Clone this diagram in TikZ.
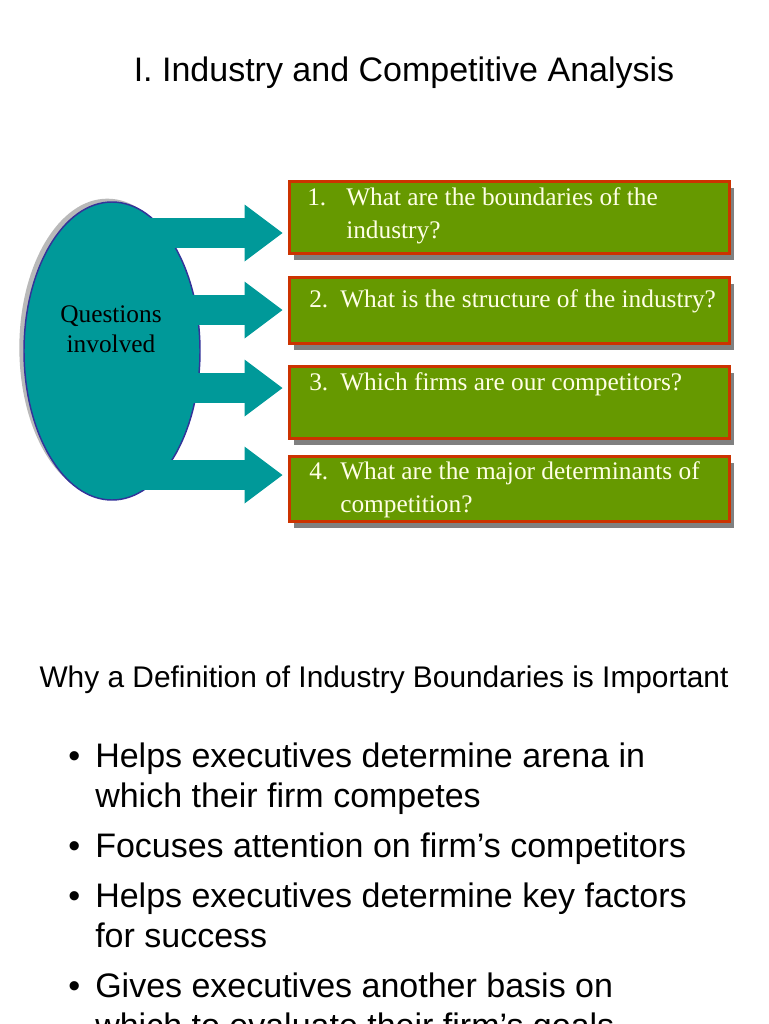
\documentclass[tikz,border=0pt]{standalone}
\usepackage{fontspec}
\setmainfont{Liberation Serif}
\newfontfamily\slidesans{Liberation Sans}
\usetikzlibrary{arrows.meta,shapes.geometric,shadows}
\definecolor{qteal}{HTML}{009999}
\definecolor{qblue}{HTML}{333399}
\definecolor{boxgreen}{HTML}{669900}
\definecolor{boxred}{HTML}{CC3300}
\definecolor{boxshade}{HTML}{808080}
\definecolor{boxtext}{HTML}{FFFFE6}

\begin{document}
\begin{tikzpicture}[
  x=0.75pt, y=-0.75pt,
  qbox/.style={draw=boxred, line width=2.25pt, fill=boxgreen, minimum width=330pt, minimum height=54pt,
    drop shadow={shadow xshift=4pt, shadow yshift=-5pt, fill=boxshade, opacity=1}},
  qtext/.style={text=boxtext, align=left, inner sep=0pt, anchor=base west, font=\fontsize{19pt}{24.75pt}\selectfont},
  fat/.style={line width=22.5pt, draw=qteal, -{Triangle[length=28.5pt, width=42.75pt, line width=0pt]}, shorten >=3.75pt},
  bullet/.style={anchor=base west, align=left, inner sep=0pt, font=\slidesans\fontsize{25.5pt}{30pt}\selectfont}
]
\useasboundingbox (0,0) rectangle (768,1024);

\node[anchor=base, inner sep=0pt, font=\slidesans\fontsize{25.5pt}{30pt}\selectfont] (title) at (404,82) {I. Industry and Competitive Analysis};

\node[ellipse, minimum width=132pt, minimum height=223.5pt, fill=qteal, draw=qblue, line width=1.1pt,
  drop shadow={shadow xshift=-3.5pt, shadow yshift=2.5pt, fill=gray!55, opacity=1}] (q) at (112,351) {};
\node[align=center, anchor=base, inner sep=0pt, font=\fontsize{19pt}{22.5pt}\selectfont] (qlabel) at (111,352) {Questions\\involved};

\node[qbox] (b1) at (509,217.5) {};
\node[qbox, minimum height=49.5pt] (b2) at (509,310.5) {};
\node[qbox] (b3) at (509,402.5) {};
\node[qbox, minimum height=49pt] (b4) at (509,489) {};

\node[qtext] (t1) at (307,238) {\makebox[29.25pt][l]{1.}What are the boundaries of the\\\hspace*{29.25pt}industry?};
\node[qtext] (t2) at (309,307) {\makebox[23.25pt][l]{2.}What is the structure of the industry?};
\node[qtext] (t3) at (309,390) {\makebox[23.25pt][l]{3.}Which firms are our competitors?};
\node[qtext] (t4) at (309,512) {\makebox[23.25pt][l]{4.}What are the major determinants of\\\hspace*{23.25pt}competition?};

\foreach \i/\sx/\sy in {1/150/233, 2/170/310, 3/170/388, 4/140/475}
  \coordinate (s\i) at (\sx,\sy);
\foreach \i in {1,...,4}
  \draw[fat] (s\i) -- (s\i -| b\i.west);

\node[anchor=base, inner sep=0pt, font=\slidesans\fontsize{22.4pt}{27pt}\selectfont] (why) at (384,687) {Why a Definition of Industry Boundaries is Important};

\node[bullet] (p1) at (68,807) {\makebox[20.25pt][l]{•}Helps executives determine arena in\\\hspace*{20.25pt}which their firm competes};
\node[bullet] (p2) at (68,857) {\makebox[20.25pt][l]{•}Focuses attention on firm’s competitors};
\node[bullet] (p3) at (68,947) {\makebox[20.25pt][l]{•}Helps executives determine key factors\\\hspace*{20.25pt}for success};
\node[bullet] (p4) at (68,1037) {\makebox[20.25pt][l]{•}Gives executives another basis on\\\hspace*{20.25pt}which to evaluate their firm’s goals};
\end{tikzpicture}
\end{document}
